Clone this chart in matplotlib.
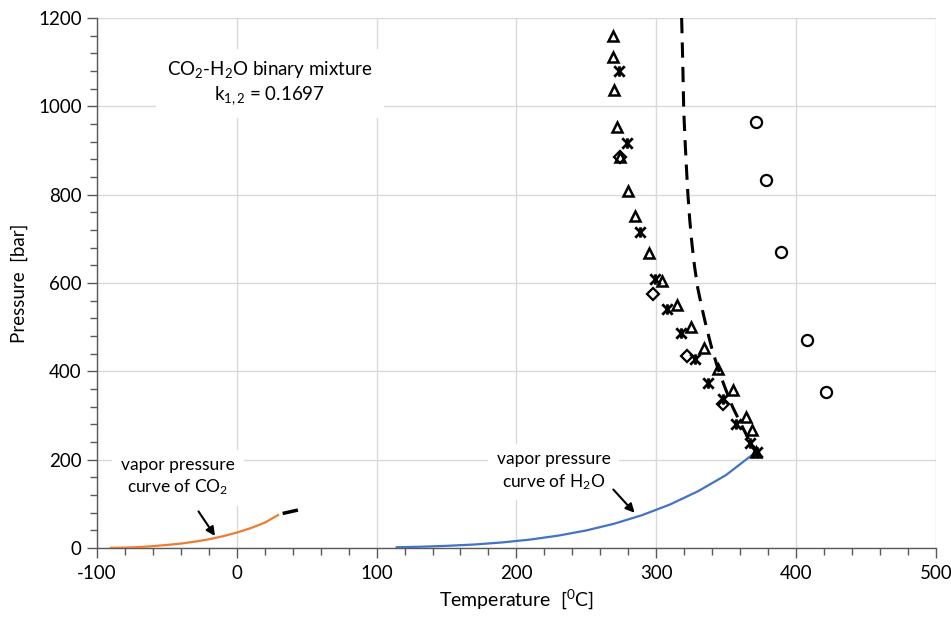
import matplotlib
matplotlib.use("Agg")
import matplotlib.pyplot as plt
from matplotlib.path import Path
from matplotlib.ticker import MultipleLocator

plt.rcParams['font.family'] = ['Lato', 'DejaVu Sans']
plt.rcParams['mathtext.fontset'] = 'custom'
plt.rcParams['mathtext.rm'] = 'Lato'
plt.rcParams['mathtext.it'] = 'Lato:italic'
plt.rcParams['axes.unicode_minus'] = False

# ---- data ----
tri_T = [268.9, 268.9, 269.6, 271.8, 273.9, 279.6, 284.6, 294.6, 303.9, 314.6,
         324.7, 334.0, 344.0, 354.7, 364.0, 368.3, 371.2]
tri_P = [1159, 1112, 1037, 953, 885, 808, 752, 668, 604, 550,
         500, 453, 405, 358, 297, 267, 217]

star_T = [273.2, 278.9, 288.2, 298.9, 307.5, 317.5, 327.5, 336.8, 347.6, 356.9, 366.9, 372.0]
star_P = [1080, 917, 715, 609, 541, 487, 428, 373, 337, 281, 238, 218]

dia_T = [273.9, 297.5, 321.8, 347.6]
dia_P = [885, 575, 435, 326]

circ_T = [371.2, 378.3, 389.0, 407.6, 421.2]
circ_P = [964, 833, 670, 471, 353]

model_T = [318.2, 319.0, 319.7, 320.6, 321.6, 322.7, 324.0, 325.6, 327.5, 329.7,
           332.6, 335.9, 339.7, 344.0, 349.0, 354.7, 360.0, 365.5, 371.2]
model_P = [1200, 1100, 992, 925, 863, 800, 743, 688, 636, 589,
           545, 500, 453, 408, 365, 319, 285, 250, 217]

co2_T = [-90, -80, -70, -60, -56.6, -50, -40, -30, -20, -10, 0, 10, 20, 29.5]
co2_P = [0.4, 0.9, 2.0, 4.1, 5.2, 6.8, 10.0, 14.3, 19.7, 26.5, 34.9, 45.0, 57.3, 74.5]

co2_ext_T = [34.0, 42.5]
co2_ext_P = [79, 85]

h2o_T = [114.4, 130, 150, 170, 190, 210, 230, 250, 270, 290, 310, 330, 350, 371.2]
h2o_P = [1.6, 2.7, 4.8, 7.9, 12.6, 19.1, 28.0, 39.7, 55.0, 74.4, 98.6, 128.6, 165.2, 217]

xticks = [-100, 0, 100, 200, 300, 400, 500]
yticks = [0, 200, 400, 600, 800, 1000, 1200]

# ---- figure ----
fig = plt.figure(figsize=(9.51, 6.18), dpi=100)
ax = fig.add_axes([0.102, 0.1133, 0.882, 0.8576])
ax.set_xlim(-100, 500)
ax.set_ylim(0, 1200)
ax.set_xticks(xticks)
ax.set_yticks(yticks)
ax.xaxis.set_minor_locator(MultipleLocator(20))
ax.yaxis.set_minor_locator(MultipleLocator(40))
ax.grid(True, which='major', color='#D9D9D9', lw=1.0, zorder=0)
ax.set_axisbelow(True)
for s in ['top', 'right']:
    ax.spines[s].set_visible(False)
for s in ['left', 'bottom']:
    ax.spines[s].set_color('#595959')
    ax.spines[s].set_linewidth(1.0)
ax.tick_params(which='major', direction='out', length=7, width=1, color='#595959',
               labelsize=13.5, labelcolor='black')
ax.tick_params(which='minor', direction='out', length=5, width=1, color='#595959')
ax.tick_params(axis='x', pad=5)
ax.tick_params(axis='y', pad=4)

ax.set_xlabel(r'Temperature  [$^{0}$C]', fontsize=14, labelpad=4)
ax.set_ylabel('Pressure  [bar]', fontsize=13.5, labelpad=7)

# curves
ax.plot(co2_T, co2_P, color='#ED7D31', lw=1.6, zorder=3)
ax.plot(co2_ext_T, co2_ext_P, color='black', lw=2.5, zorder=3)
ax.plot(h2o_T, h2o_P, color='#4472C4', lw=1.6, zorder=3)
ax.plot(model_T, model_P, color='black', lw=2.2, ls=(0, (5, 3)), zorder=3)

# markers
star = Path([(-1, -1), (1, 1), (-1, 1), (1, -1), (0, -1), (0, 1)],
            [Path.MOVETO, Path.LINETO, Path.MOVETO, Path.LINETO,
             Path.MOVETO, Path.LINETO])
ax.plot(tri_T, tri_P, ls='none', marker='^', ms=7.5, mfc='none', mec='black', mew=1.8, zorder=4)
ax.plot(star_T, star_P, ls='none', marker=star, ms=7.5, mfc='none', mec='black', mew=2.0, zorder=4)
ax.plot(dia_T, dia_P, ls='none', marker='D', ms=6.5, mfc='none', mec='black', mew=1.6, zorder=4)
ax.plot(circ_T, circ_P, ls='none', marker='o', ms=8, mfc='none', mec='black', mew=1.6, zorder=4)

# annotations
bbox = dict(boxstyle='square,pad=0.5', fc='white', ec='none')
ax.text(23.6, 1053, 'CO$_2$-H$_2$O binary mixture\nk$_{1,2}$ = 0.1697', ha='center', va='center',
        fontsize=13.5, linespacing=1.3, bbox=dict(boxstyle='square,pad=0.6', fc='white', ec='none'),
        zorder=2)
ax.text(-42, 161, 'vapor pressure\ncurve of CO$_2$', ha='center', va='center', fontsize=12.5,
        linespacing=1.3, bbox=bbox, zorder=2)
ax.text(226.7, 173, 'vapor pressure\ncurve of H$_2$O', ha='center', va='center', fontsize=12.5,
        linespacing=1.3, bbox=bbox, zorder=2)
ax.annotate('', xy=(-14.5, 22), xytext=(-28.5, 88),
            arrowprops=dict(arrowstyle='-|>', color='black', lw=1.5, mutation_scale=13), zorder=5)
ax.annotate('', xy=(285.9, 75), xytext=(268, 137),
            arrowprops=dict(arrowstyle='-|>', color='black', lw=1.5, mutation_scale=13), zorder=5)

fig.savefig('out.png', dpi=100, facecolor='white')
